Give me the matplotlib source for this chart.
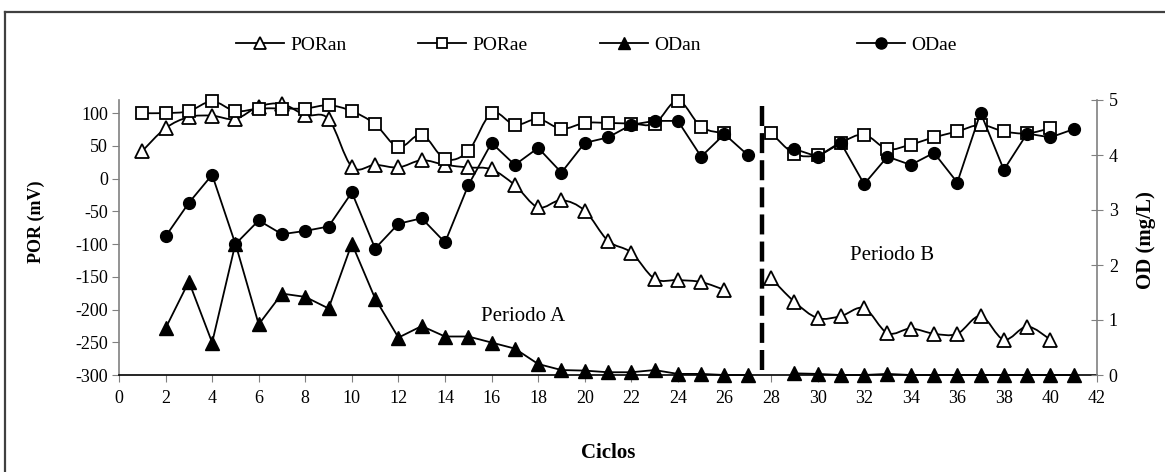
import numpy as np
import matplotlib
matplotlib.use("Agg")
import matplotlib.pyplot as plt
from matplotlib.path import Path
from matplotlib.patches import PathPatch
from matplotlib.lines import Line2D

plt.rcParams['font.family'] = ['Liberation Serif', 'DejaVu Serif']
plt.rcParams['axes.unicode_minus'] = False

# ---- data ----
ciclos_por = list(range(1, 27)) + list(range(28, 41))
por_an = [42, 77, 94, 96, 91, 110, 114, 97, 91, 18, 21, 17, 28, 21, 17, 14, -10, -44, -33, -49,
          -95, -113, -153, -155, -158, -170,
          -152, -188, -213, -210, -198, -236, -229, -237, -237, -210, -246, -226, -246]
por_ae = [100, 100, 103, 118, 103, 107, 107, 107, 112, 103, 83, 48, 67, 30, 42, 100, 82, 91, 76, 85,
          85, 84, 84, 119, 79, 69,
          70, 38, 36, 55, 67, 45, 52, 63, 72, 82, 72, 69, 77]

ciclos_od = list(range(2, 28)) + list(range(29, 42))
od_an = [0.85, 1.70, 0.59, 2.39, 0.92, 1.48, 1.42, 1.21, 2.39, 1.39, 0.68, 0.89, 0.70, 0.70, 0.59,
         0.48, 0.20, 0.09, 0.08, 0.05, 0.05, 0.09, 0.02, 0.02, 0.0, 0.0,
         0.03, 0.02, 0.0, 0.0, 0.02, 0.0, 0.0, 0.0, 0.0, 0.0, 0.0, 0.0, 0.0]
od_ae = [2.52, 3.13, 3.64, 2.38, 2.81, 2.56, 2.62, 2.70, 3.32, 2.30, 2.75, 2.85, 2.41, 3.45, 4.22,
         3.82, 4.13, 3.68, 4.22, 4.32, 4.55, 4.62, 4.62, 3.97, 4.38, 4.00,
         4.11, 3.97, 4.22, 3.47, 3.97, 3.82, 4.04, 3.50, 4.77, 3.73, 4.39, 4.32, 4.47]

x_ticks = list(range(0, 43, 2))
por_ticks = list(range(-300, 101, 50))
od_ticks = [0, 1, 2, 3, 4, 5]
separacion = 27.6
textos = [("Periodo A", 17.35, -211), ("Periodo B", 33.2, -117)]
series_labels = ["PORan", "PORae", "ODan", "ODae"]

W, H = 1165, 472
fig = plt.figure(figsize=(W / 100, H / 100), dpi=100)
ax = fig.add_axes([119 / W, 1 - 375 / H, (1097 - 119) / W, 275 / H])
ax2 = ax.twinx()

ax.set_xlim(0, 42)
ax.set_ylim(-300, 120)
ax2.set_ylim(0, 5)
ax.set_xticks(x_ticks)
ax.set_yticks(por_ticks)
ax2.set_yticks(od_ticks)

gray = '#808080'
for a in (ax, ax2):
    a.spines['top'].set_visible(False)
    a.set_facecolor('none')
ax.spines['right'].set_visible(False)
ax.spines['left'].set_color(gray)
ax.spines['bottom'].set_color('black')
ax2.spines['left'].set_visible(False)
ax2.spines['bottom'].set_visible(False)
ax2.spines['right'].set_color(gray)
for s in ('left', 'bottom'):
    ax.spines[s].set_linewidth(1.2)
ax2.spines['right'].set_linewidth(1.2)

ax.tick_params(axis='y', direction='out', length=5, color=gray, labelsize=13, pad=3)
ax.tick_params(axis='x', direction='out', length=5, color=gray, labelsize=13, pad=6)
ax2.tick_params(axis='y', direction='inout', length=9, color=gray, labelsize=13, pad=4)


def smooth_path(xs, ys):
    xs = np.asarray(xs, float)
    ys = np.asarray(ys, float)
    pts = np.column_stack([xs, ys])
    n = len(pts)
    verts = [pts[0]]
    codes = [Path.MOVETO]
    for i in range(n - 1):
        p0 = pts[i - 1] if i > 0 else pts[i]
        p1 = pts[i]
        p2 = pts[i + 1]
        p3 = pts[i + 2] if i + 2 < n else pts[i + 1]
        c1 = p1 + (p2 - p0) / 6.0
        c2 = p2 - (p3 - p1) / 6.0
        verts += [c1, c2, p2]
        codes += [Path.CURVE4] * 3
    return Path(verts, codes)


def segments(xs, ys):
    segs, cx, cy = [], [xs[0]], [ys[0]]
    for a, b in zip(zip(xs[1:], ys[1:]), zip(xs[:-1], ys[:-1])):
        if a[0] - b[0] > 1:
            segs.append((cx, cy))
            cx, cy = [], []
        cx.append(a[0]); cy.append(a[1])
    segs.append((cx, cy))
    return segs


lw = 1.3
# POR series (smoothed lines)
for vals, mk, ms in ((por_an, '^', 9.5), (por_ae, 's', 8)):
    for sx, sy in segments(ciclos_por, vals):
        ax.add_patch(PathPatch(smooth_path(sx, sy), fill=False, edgecolor='black', lw=lw,
                               zorder=2, clip_on=False))
    ax.plot(ciclos_por, vals, ls='none', marker=mk, ms=ms, mfc='white', mec='black', mew=1.3,
            zorder=3, clip_on=False)

# OD series (straight lines)
for vals, mk, ms in ((od_an, '^', 9.5), (od_ae, 'o', 8.5)):
    for sx, sy in segments(ciclos_od, vals):
        ax2.plot(sx, sy, color='black', lw=lw, zorder=2, clip_on=False)
    ax2.plot(ciclos_od, vals, ls='none', marker=mk, ms=ms, mfc='black', mec='black', zorder=3,
             clip_on=False)

ax.axvline(separacion, ymin=0.02, ymax=0.99, color='black', lw=3.2, linestyle=(0, (4.5, 1.6)), zorder=4)

for t, tx, ty in textos:
    ax.text(tx, ty, t, fontsize=15, ha='center', va='center')

ax.set_xlabel('Ciclos', fontsize=15, fontweight='bold')
ax.xaxis.set_label_coords(0.5, -0.284)
ax.xaxis.label.set_va('center')
ax.set_ylabel('POR (mV)', fontsize=13, fontweight='bold')
ax.yaxis.set_label_coords(-0.085, 0.556)
ax.yaxis.label.set_va('center')
ax2.set_ylabel('OD (mg/L)', fontsize=15, fontweight='bold', rotation=90)
ax2.yaxis.set_label_coords(1.050, 0.49)
ax2.yaxis.label.set_va('center')

# legends
handles = [
    Line2D([], [], color='black', lw=lw, marker='^', ms=9, mfc='white', mec='black', mew=1.3),
    Line2D([], [], color='black', lw=lw, marker='s', ms=7.5, mfc='white', mec='black', mew=1.3),
    Line2D([], [], color='black', lw=lw, marker='^', ms=9, mfc='black', mec='black'),
    Line2D([], [], color='black', lw=lw, marker='o', ms=8, mfc='black', mec='black'),
]
leg_x = [236, 418, 600, 857]
for h, lab, lx in zip(handles, series_labels, leg_x):
    lg = fig.legend([h], [lab], loc='center left', bbox_to_anchor=(lx / W, 1 - 45 / H),
                    frameon=False, fontsize=14, borderpad=0, borderaxespad=0,
                    handlelength=2.45, handletextpad=0.35)

# outer frame (top and left edges visible)
fig.add_artist(Line2D([4.5 / W, 4.5 / W], [0, 1 - 12 / H], color='#404040', lw=1.6, transform=fig.transFigure))
fig.add_artist(Line2D([4.5 / W, 1], [1 - 12 / H, 1 - 12 / H], color='#404040', lw=1.6, transform=fig.transFigure))

fig.savefig('out.png', dpi=100)
